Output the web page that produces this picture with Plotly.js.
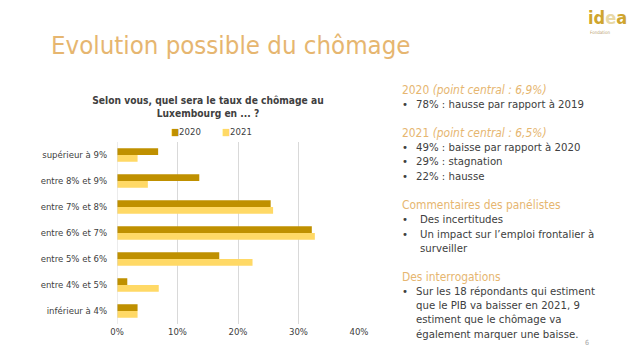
<!DOCTYPE html>
<html>
<head>
<meta charset="utf-8">
<script src="https://cdn.plot.ly/plotly-3.0.1.min.js"></script>
<style>
  html, body { margin: 0; padding: 0; background: #ffffff; }
  #chart { width: 638px; height: 359px; }
</style>
</head>
<body>
<div id="chart"></div>
<script>
// ---- data ----
const categories = ["supérieur à 9%", "entre 8% et 9%", "entre 7% et 8%", "entre 6% et 7%", "entre 5% et 6%", "entre 4% et 5%", "inférieur à 4%"];
const series2020 = [0.068, 0.136, 0.254, 0.322, 0.169, 0.017, 0.034];
const series2021 = [0.034, 0.051, 0.258, 0.327, 0.224, 0.069, 0.034];
const seriesNames = ["2020", "2021"];
const xTickVals = [0, 0.1, 0.2, 0.3, 0.4];
const xTickText = ["0%", "10%", "20%", "30%", "40%"];

const slideTitle = "Evolution possible du chômage";
const chartTitle = "Selon vous, quel sera le taux de chômage au<br>Luxembourg en ... ?";

// ---- styles ----
const FONT = "'DejaVu Sans Condensed', 'DejaVu Sans', sans-serif";
const ACCENT = "#E6B670";
const TEXT = "#404040";
const COLORS = ["#BF9000", "#FFD966"];

// plot area in pixels
const PX0 = 117, PX1 = 359, PY0 = 142, PY1 = 324;
const W = 638, H = 359;
const px = v => (v - PX0) / (PX1 - PX0);
const py = v => (PY1 - v) / (PY1 - PY0);

const traces = [
  { type: "bar", orientation: "h", name: seriesNames[0], y: categories, x: series2020,
    marker: { color: COLORS[0] }, hoverinfo: "skip", showlegend: false },
  { type: "bar", orientation: "h", name: seriesNames[1], y: categories, x: series2021,
    marker: { color: COLORS[1] }, hoverinfo: "skip", showlegend: false }
];

// right-side text blocks
const HS = 11.9, BS = 11.3;
const sideLines = [
  { x: 400, y: 90, t: "2020 <i>(point central : 6,9%)</i>", c: ACCENT, s: HS },
  { x: 400, y: 104, t: "•", c: TEXT, s: BS },
  { x: 414, y: 104, t: "78% : hausse par rapport à 2019", c: TEXT, s: BS },
  { x: 400, y: 133, t: "2021 <i>(point central : 6,5%)</i>", c: ACCENT, s: HS },
  { x: 400, y: 147, t: "•", c: TEXT, s: BS },
  { x: 414, y: 147, t: "49% : baisse par rapport à 2020", c: TEXT, s: BS },
  { x: 400, y: 161, t: "•", c: TEXT, s: BS },
  { x: 414, y: 161, t: "29% : stagnation", c: TEXT, s: BS },
  { x: 400, y: 176, t: "•", c: TEXT, s: BS },
  { x: 414, y: 176, t: "22% : hausse", c: TEXT, s: BS },
  { x: 400, y: 205, t: "Commentaires des panélistes", c: ACCENT, s: HS },
  { x: 400, y: 219, t: "•", c: TEXT, s: BS },
  { x: 418, y: 219, t: "Des incertitudes", c: TEXT, s: BS },
  { x: 400, y: 234, t: "•", c: TEXT, s: BS },
  { x: 418, y: 234, t: "Un impact sur l’emploi frontalier à", c: TEXT, s: BS },
  { x: 418, y: 248, t: "surveiller", c: TEXT, s: BS },
  { x: 400, y: 277, t: "Des interrogations", c: ACCENT, s: HS },
  { x: 400, y: 291, t: "•", c: TEXT, s: BS },
  { x: 414, y: 291, t: "Sur les 18 répondants qui estiment", c: TEXT, s: BS },
  { x: 414, y: 305, t: "que le PIB va baisser en 2021, 9", c: TEXT, s: BS },
  { x: 414, y: 319, t: "estiment que le chômage va", c: TEXT, s: BS },
  { x: 414, y: 334, t: "également marquer une baisse.", c: TEXT, s: BS }
];

const annotations = sideLines.map(l => ({
  xref: "paper", yref: "paper", x: px(l.x), y: py(l.y),
  xanchor: "left", yanchor: "middle", showarrow: false, text: l.t,
  font: { family: FONT, size: l.s, color: l.c }
}));

// legend (series keys)
const legendX = [169, 220];
seriesNames.forEach((n, i) => {
  annotations.push({
    xref: "paper", yref: "paper", x: px(legendX[i]), y: py(131),
    xanchor: "left", yanchor: "middle", showarrow: false,
    text: "<span style='color:" + COLORS[i] + "'>■</span>" + n,
    font: { family: FONT, size: 9.5, color: TEXT }
  });
});

annotations.push({
  xref: "paper", yref: "paper", x: px(49), y: py(45), xanchor: "left", yanchor: "middle",
  showarrow: false, text: slideTitle, font: { family: FONT, size: 25.6, color: ACCENT }
});
annotations.push({
  xref: "paper", yref: "paper", x: px(587), y: py(343), xanchor: "center", yanchor: "middle",
  showarrow: false, text: "6", font: { family: FONT, size: 7, color: "#A6A6A6" }
});
// logo
annotations.push({
  xref: "paper", yref: "paper", x: px(607), y: py(17), xanchor: "center", yanchor: "middle",
  showarrow: false, text: "<b>id<span style='color:#E9D9A6'>e</span>a</b>",
  font: { family: FONT, size: 18, color: "#CFA52E" }
});
annotations.push({
  xref: "paper", yref: "paper", x: px(600), y: py(33), xanchor: "center", yanchor: "middle",
  showarrow: false, text: "Fondation", font: { family: FONT, size: 4.5, color: "#B8A070" }
});

const layout = {
  width: W, height: H,
  margin: { l: PX0, r: W - PX1, t: PY0, b: H - PY1, pad: 0 },
  paper_bgcolor: "#ffffff", plot_bgcolor: "#ffffff",
  font: { family: FONT, color: TEXT, size: 10 },
  title: {
    text: "<b>" + chartTitle + "</b>",
    xref: "container", yref: "container",
    x: 208 / W, xanchor: "center", y: 1 - 104 / H, yanchor: "top",
    font: { family: FONT, size: 10.2, color: TEXT }
  },
  barmode: "group", bargap: 0.48, bargroupgap: 0,
  xaxis: {
    range: [0, 0.4], tickvals: xTickVals, ticktext: xTickText,
    showgrid: true, gridcolor: "#D9D9D9", gridwidth: 1,
    zeroline: false, showline: false, ticks: "",
    tickfont: { family: FONT, size: 9.5, color: TEXT }, fixedrange: true
  },
  yaxis: {
    type: "category", autorange: "reversed", showgrid: false, zeroline: false,
    showline: false, ticks: "outside", ticklen: 7, tickcolor: "rgba(0,0,0,0)",
    tickfont: { family: FONT, size: 9.5, color: TEXT }, fixedrange: true
  },
  showlegend: false,
  annotations: annotations
};

// x zero gridline
layout.shapes = [{
  type: "line", xref: "x", yref: "paper", x0: 0, x1: 0, y0: 0, y1: 1,
  line: { color: "#D9D9D9", width: 1 }
}];

Plotly.newPlot("chart", traces, layout, { displayModeBar: false, staticPlot: true });
</script>
</body>
</html>
